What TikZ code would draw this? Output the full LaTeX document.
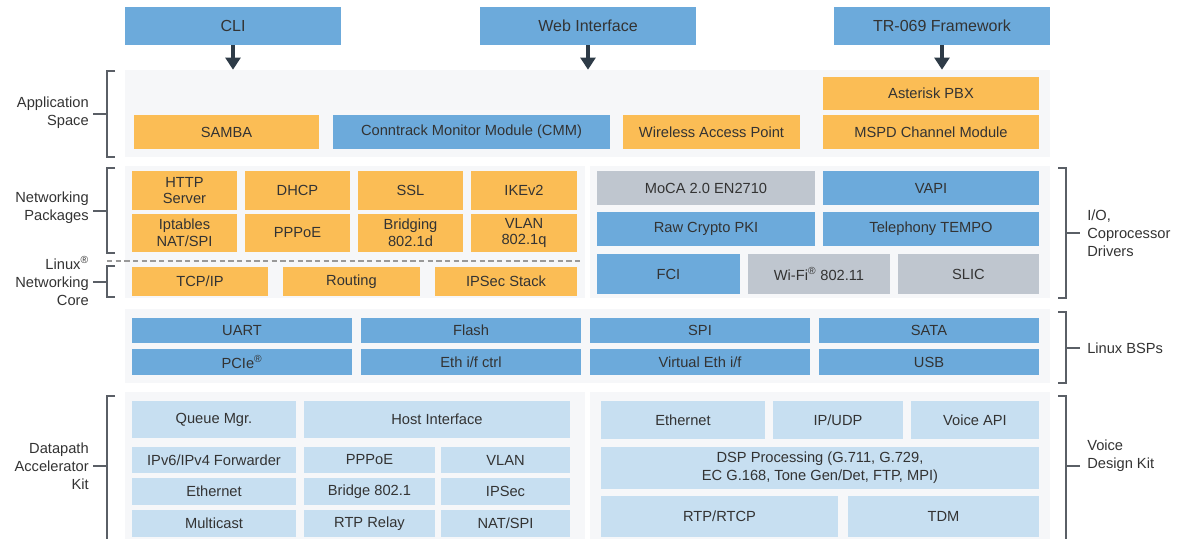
\documentclass[tikz,border=0pt]{standalone}
\usepackage{fontspec}
\setmainfont{Liberation Sans}
\usetikzlibrary{fit,arrows.meta}
\definecolor{blu}{HTML}{6CAADB}
\definecolor{org}{HTML}{FBBD55}
\definecolor{gry}{HTML}{BFC6CF}
\definecolor{lblu}{HTML}{C7DFF1}
\definecolor{pnl}{HTML}{F6F7F9}
\definecolor{txt}{HTML}{333333}
\definecolor{brkc}{HTML}{5A5F66}
\definecolor{arrc}{HTML}{2E3B47}
\tikzset{
  box/.style={inner sep=0pt, text=txt, align=center, font=\fontsize{11}{12.5}\selectfont},
  bbox/.style={box, fill=blu},
  obox/.style={box, fill=org},
  gbox/.style={box, fill=gry},
  lbox/.style={box, fill=lblu},
  topbox/.style={bbox, font=\fontsize{12}{14}\selectfont},
  panel/.style={inner sep=0pt, fill=pnl},
  lside/.style={inner sep=0pt, text=txt, align=right, anchor=east, font=\fontsize{11}{13.5}\selectfont},
  rside/.style={inner sep=0pt, text=txt, align=left, anchor=west, font=\fontsize{11}{13.5}\selectfont},
  brk/.style={draw=brkc, line width=1.1pt},
  arr/.style={draw=arrc, line width=2.3pt, -{Triangle[width=11pt,length=9pt]}},
}
% box from (x1,y1) to (x2,y2) in pixels
\newcommand\blk[7]{\node[#1, minimum width={(#5-#3)*0.75pt}, minimum height={(#6-#4)*0.75pt}]
  (#2) at ({(#3+#5)/2},{(#4+#6)/2}) {#7};}
\begin{document}
\begin{tikzpicture}[x=0.75pt,y=-0.75pt]
  \useasboundingbox (0,0) rectangle (1182,539);
  \begin{scope}
    \clip (0,0) rectangle (1182,539);
    \node[panel, fit={(125,70) (1050,157)}] (apppnl) {};
    \node[panel, fit={(125,166) (585,298)}] (netpnl) {};
    \node[panel, fit={(590,166) (1050,298)}] (iopnl) {};
    \node[panel, fit={(125,309) (1050,383)}] (bsppnl) {};
    \node[panel, fit={(125,392) (585,545)}] (dpapnl) {};
    \node[panel, fit={(590,392) (1050,545)}] (vdkpnl) {};

    \blk{topbox}{cli}{125}{7}{341}{45}{CLI}
    \blk{topbox}{web}{480}{7}{696}{45}{Web Interface}
    \blk{topbox}{tr}{834}{7}{1050}{45}{TR-069 Framework}

    \blk{obox}{samba}{134}{115}{319}{149}{SAMBA}
    \blk{bbox}{cmm}{333}{115}{610}{149}{Conntrack Monitor Module (CMM)}
    \blk{obox}{wap}{623}{115}{800}{149}{Wireless Access Point}
    \blk{obox}{pbx}{823}{77}{1039}{110}{Asterisk PBX}
    \blk{obox}{mspd}{823}{115}{1039}{149}{MSPD Channel Module}

    \blk{obox}{http}{132}{171}{237}{210}{HTTP\\Server}
    \blk{obox}{dhcp}{245}{171}{350}{210}{DHCP}
    \blk{obox}{ssl}{358}{171}{463}{210}{SSL}
    \blk{obox}{ike}{471}{171}{577}{210}{IKEv2}
    \blk{obox}{ipt}{132}{214}{237}{252}{Iptables\\NAT/SPI}
    \blk{obox}{pppoe}{245}{214}{350}{252}{PPPoE}
    \blk{obox}{bridging}{358}{214}{463}{252}{Bridging\\802.1d}
    \blk{obox}{vlan}{471}{214}{577}{252}{VLAN\\802.1q}
    \blk{obox}{tcp}{132}{267}{268}{296}{TCP/IP}
    \blk{obox}{routing}{283}{267}{420}{296}{Routing}
    \blk{obox}{ipsec}{435}{267}{577}{296}{IPSec Stack}

    \blk{gbox}{moca}{597}{171}{815}{205}{MoCA 2.0 EN2710}
    \blk{bbox}{vapi}{823}{171}{1039}{205}{VAPI}
    \blk{bbox}{crypto}{597}{212}{815}{246}{Raw Crypto PKI}
    \blk{bbox}{tempo}{823}{212}{1039}{246}{Telephony TEMPO}
    \blk{bbox}{fci}{597}{254}{740}{294}{FCI}
    \blk{gbox}{wifi}{748}{254}{890}{294}{Wi-Fi\textsuperscript{\textregistered} 802.11}
    \blk{gbox}{slic}{898}{254}{1039}{294}{SLIC}

    \blk{bbox}{uart}{132}{318}{352}{343}{UART}
    \blk{bbox}{flash}{361}{318}{581}{343}{Flash}
    \blk{bbox}{spi}{590}{318}{810}{343}{SPI}
    \blk{bbox}{sata}{819}{318}{1039}{343}{SATA}
    \blk{bbox}{pcie}{132}{349}{352}{375}{PCIe\textsuperscript{\textregistered}}
    \blk{bbox}{ethctl}{361}{349}{581}{375}{Eth i/f ctrl}
    \blk{bbox}{veth}{590}{349}{810}{375}{Virtual Eth i/f}
    \blk{bbox}{usb}{819}{349}{1039}{375}{USB}

    \blk{lbox}{queue}{132}{401}{296}{438}{Queue Mgr.}
    \blk{lbox}{host}{304}{401}{570}{438}{Host Interface}
    \blk{lbox}{fwd}{132}{447}{296}{473}{IPv6/IPv4 Forwarder}
    \blk{lbox}{dpppoe}{304}{447}{435}{473}{PPPoE}
    \blk{lbox}{dvlan}{441}{447}{570}{473}{VLAN}
    \blk{lbox}{deth}{132}{478}{296}{505}{Ethernet}
    \blk{lbox}{bridge}{304}{478}{435}{505}{Bridge 802.1}
    \blk{lbox}{dipsec}{441}{478}{570}{505}{IPSec}
    \blk{lbox}{mcast}{132}{510}{296}{537}{Multicast}
    \blk{lbox}{rtprelay}{304}{510}{435}{537}{RTP Relay}
    \blk{lbox}{nat}{441}{510}{570}{537}{NAT/SPI}

    \blk{lbox}{veth2}{601}{401}{765}{439}{Ethernet}
    \blk{lbox}{ipudp}{773}{401}{903}{439}{IP/UDP}
    \blk{lbox}{vapi2}{911}{401}{1039}{439}{Voice API}
    \blk{lbox, font=\fontsize{11}{13.5}\selectfont}{dsp}{601}{447}{1039}{489}{DSP Processing (G.711, G.729,\\EC G.168, Tone Gen/Det, FTP, MPI)}
    \blk{lbox}{rtp}{601}{496}{838}{537}{RTP/RTCP}
    \blk{lbox}{tdm}{848}{496}{1039}{537}{TDM}
  \end{scope}

  \begin{scope}[arr]
    \draw (cli.south) -- (cli.south |- apppnl.north);
    \draw (web.south) -- (web.south |- apppnl.north);
    \draw (tr.south) -- (tr.south |- apppnl.north);
  \end{scope}

  \draw[draw=gray!80, line width=1.5pt, dash pattern=on 4pt off 2.5pt] (107,261) -- (583,261);

  \node[lside] (applbl) at (89,113) {Application\\Space};
  \node[lside] (netlbl) at (89,208) {Networking\\Packages};
  \node[lside] (corelbl) at (89,281) {Linux\textsuperscript{\textregistered}\\Networking\\Core};
  \node[lside] (dpalbl) at (89,466) {Datapath\\Accelerator\\Kit};
  \node[rside] (iolbl) at (1087,233) {I/O,\\Coprocessor\\Drivers};
  \node[rside] (bsplbl) at (1087,348) {Linux BSPs};
  \node[rside] (vdklbl) at (1087,456) {Voice\\Design Kit};

  \begin{scope}[brk]
    \draw (115,71) -- (107,71) -- (107,157) -- (115,157);
    \draw (93,114) -- (107,114);
    \draw (115,168) -- (107,168) -- (107,253) -- (115,253);
    \draw (93,211) -- (107,211);
    \draw (115,266) -- (107,266) -- (107,297) -- (115,297);
    \draw (93,282) -- (107,282);
    \draw (115,396) -- (107,396) -- (107,545);
    \draw (93,466) -- (107,466);
    \draw (1058,168) -- (1066,168) -- (1066,298) -- (1058,298);
    \draw (1066,233) -- (1080,233);
    \draw (1058,312) -- (1066,312) -- (1066,383) -- (1058,383);
    \draw (1066,348) -- (1080,348);
    \draw (1058,396) -- (1066,396) -- (1066,545);
    \draw (1066,466) -- (1080,466);
  \end{scope}
\end{tikzpicture}
\end{document}
